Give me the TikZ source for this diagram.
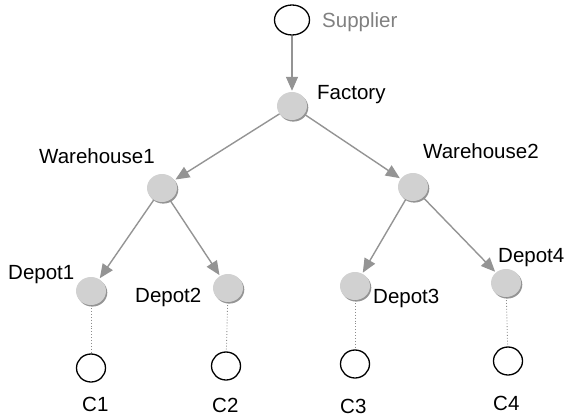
\documentclass[tikz,border=0pt]{standalone}
\usepackage{fontspec}
\setmainfont{Liberation Sans}
\usetikzlibrary{arrows.meta, shapes.geometric, shadows}

\tikzset{
	site/.style = {ellipse, draw = black, line width = 1.3pt, fill = white, minimum width = 29pt, minimum height = 28pt, inner sep = 0pt},
	hub/.style = {ellipse, fill = black!18, minimum width = 30pt, minimum height = 28pt, inner sep = 0pt,
		drop shadow = {shadow xshift = 1.3pt, shadow yshift = -1.6pt, fill = black!42, opacity = 1}},
	flow/.style = {->, draw = black!42, line width = 1.4pt, shorten > = 1pt},
	link/.style = {draw = black!45, dotted, line width = 0.9pt},
	tag/.style = {anchor = base west, inner sep = 0pt, font = \fontsize{20.5}{24}\selectfont}
}

\begin{document}
\begin{tikzpicture}[> = {Triangle[length = 14pt, width = 12pt]}, x = 1pt, y = -1pt]

\useasboundingbox (0, 0) rectangle (575, 417);

% Supplier and factory

\node [site, minimum width = 35pt, minimum height = 30pt] (sup) at (292, 20) {};
\node [tag, text = black!50] (sup-lab) at (322, 28) {Supplier};

\node [hub] (fac) at (292, 106) {};
\node [tag] (fac-lab) at (317, 100) {Factory};

% Warehouses

\node [hub] (wh1) at (162, 188) {};
\node [tag] (wh1-lab) at (39, 163) {Warehouse1};

\node [hub] (wh2) at (413, 187) {};
\node [tag] (wh2-lab) at (423, 158) {Warehouse2};

% Depots

\node [hub] (dep1) at (91, 291) {};
\node [tag] (dep1-lab) at (8, 279) {Depot1};

\node [hub] (dep2) at (228, 288) {};
\node [tag] (dep2-lab) at (135, 302) {Depot2};

\node [hub] (dep3) at (355, 286) {};
\node [tag] (dep3-lab) at (373, 303) {Depot3};

\node [hub] (dep4) at (506, 283) {};
\node [tag] (dep4-lab) at (498, 262) {Depot4};

% Customers

\node [site] (c1) at (91, 368) {};
\node [tag] (c1-lab) at (82, 411) {C1};

\node [site] (c2) at (226, 366) {};
\node [tag] (c2-lab) at (212, 412) {C2};

\node [site] (c3) at (355, 364) {};
\node [tag] (c3-lab) at (340, 413) {C3};

\node [site] (c4) at (508, 361) {};
\node [tag] (c4-lab) at (493, 410) {C4};

% Flows

\draw [flow] (sup) -- (fac);
\draw [flow] (fac) -- (wh1);
\draw [flow] (fac) -- (wh2);
\draw [flow] (wh1) -- (dep1);
\draw [flow] (wh1) -- (dep2);
\draw [flow] (wh2) -- (dep3);
\draw [flow] (wh2) -- (dep4);

% Deliveries

\draw [link] (dep1) -- (c1);
\draw [link] (dep2) -- (c2);
\draw [link] (dep3) -- (c3);
\draw [link] (dep4) -- (c4);

\end{tikzpicture}
\end{document}
